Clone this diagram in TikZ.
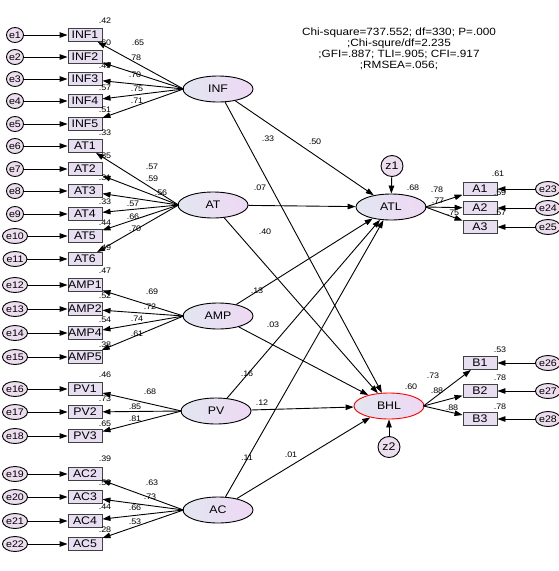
\documentclass[tikz,border=0pt]{standalone}
\usepackage{fontspec}
\setmainfont[FakeStretch=1.12]{Liberation Sans}
\usetikzlibrary{shapes.geometric,arrows.meta}
\definecolor{boxfill}{RGB}{232,222,242}
\definecolor{errfill}{RGB}{236,222,238}
\definecolor{latL}{RGB}{226,230,240}
\definecolor{latR}{RGB}{238,216,244}
\begin{document}
\begin{tikzpicture}[x=1pt,y=-1pt,
  obs/.style={rectangle,draw=black!75,line width=0.9pt,fill=boxfill,minimum width=34,minimum height=13,inner sep=0pt,font=\fontsize{11}{11}\selectfont},
  lat/.style={ellipse,draw=black,line width=0.9pt,left color=latL,right color=latR,minimum width=70,minimum height=26,inner sep=0pt,font=\fontsize{11}{11}\selectfont},
  err/.style={ellipse,draw=black,line width=0.9pt,fill=errfill,minimum width=17,minimum height=15,inner sep=0pt,font=\fontsize{9.5}{9.5}\selectfont},
  num/.style={inner sep=0pt,font=\fontsize{8}{8}\selectfont},
  arr/.style={-{Triangle[length=8pt,width=5.5pt]},line width=0.9pt}]
\useasboundingbox (0,0) rectangle (559,571);
\fill[white] (0,0) rectangle (559,571);
% fit text
\node[inner sep=0pt,align=center,font=\fontsize{10.5}{10.8}\selectfont] (fit) at (399,49)
  {Chi-square=737.552; df=330; P=.000\\;Chi-squre/df=2.235\\;GFI=.887; TLI=.905; CFI=.917\\;RMSEA=.056;};
% latent variables
\node[lat] (INF) at (218,89) {INF};
\node[lat] (AT) at (213,205) {AT};
\node[lat] (AMP) at (218,316) {AMP};
\node[lat] (PV) at (216,411) {PV};
\node[lat] (AC) at (218,510) {AC};
\node[lat] (ATL) at (391,207) {ATL};
\node[lat,draw=red] (BHL) at (389,406) {BHL};
\node[err,minimum width=22,minimum height=21,font=\fontsize{11}{11}\selectfont] (z1) at (392,166) {z1};
\node[err,minimum width=22,minimum height=21,font=\fontsize{11}{11}\selectfont] (z2) at (389,447) {z2};
% indicators left
\foreach \n/\y/\e in {INF1/35/e1,INF2/57/e2,INF3/79/e3,INF4/101/e4,INF5/124/e5,
  AT1/146/e6,AT2/169/e7,AT3/191/e8,AT4/214/e9,AT5/236/e10,AT6/259/e11,
  AMP1/285/e12,AMP2/309/e13,AMP4/333/e14,AMP5/357/e15,
  PV1/389/e16,PV2/412/e17,PV3/436/e18,
  AC2/474/e19,AC3/497/e20,AC4/521/e21,AC5/544/e22}{
  \node[obs] (\n) at (85,\y) {\n};
  \node[err] (\e) at (15,\y) {\e};
  \draw[arr] (\e) -- (\n);
}
% indicators right
\foreach \n/\y/\e in {A1/189/e23,A2/208/e24,A3/227/e25,B1/363/e26,B2/391/e27,B3/419/e28}{
  \node[obs] (\n) at (480,\y) {\n};
  \node[err] (\e) at (548,\y) {\e};
  \draw[arr] (\e) -- (\n);
}
% loadings
\foreach \n in {INF1,INF2,INF3,INF4,INF5}{\draw[arr] ([xshift=1pt]INF.west) -- (\n);}
\foreach \n in {AT1,AT2,AT3,AT4,AT5,AT6}{\draw[arr] ([xshift=1pt]AT.west) -- (\n);}
\foreach \n in {AMP1,AMP2,AMP4,AMP5}{\draw[arr] ([xshift=1pt]AMP.west) -- (\n);}
\foreach \n in {PV1,PV2,PV3}{\draw[arr] ([xshift=1pt]PV.west) -- (\n);}
\foreach \n in {AC2,AC3,AC4,AC5}{\draw[arr] ([xshift=1pt]AC.west) -- (\n);}
\foreach \n in {A1,A2,A3}{\draw[arr] ([xshift=-1pt]ATL.east) -- (\n);}
\foreach \n in {B1,B2,B3}{\draw[arr] ([xshift=-1pt]BHL.east) -- (\n);}
% structural paths
\foreach \s in {INF,AT,AMP,PV,AC}{
  \draw[arr] (\s) -- (ATL);
  \draw[arr] (\s) -- (BHL);
}
\draw[arr] (z1) -- (ATL);
\draw[arr] (z2) -- (BHL);
% squared multiple correlations (left)
\foreach \v/\x/\y/\k in {.42/105/21/a,.60/105/43/b,.49/105/66/c,.57/105/88/d,.51/105/110/e,
  .33/105/133/f,.35/105/156/g,.31/105/178/h,.33/105/202/i,.44/105/223/j,.49/105/248/k,
  .47/105/271/l,.52/105/296/m,.54/105/320/n,.38/105/345/o,
  .46/105/375/p,.73/105/399/q,.65/105/424/r,
  .39/105/459/s,.53/105/483/t,.44/105/507/u,.28/105/530/v}{
  \node[num] (r\k) at (\x,\y) {\v};
}
% loading values
\foreach \v/\x/\y/\k in {.65/138/43/a,.78/135/58/b,.70/135/75/c,.75/137/89/d,.71/137/101/e,
  .57/152/167/f,.59/152/179/g,.56/161/193/h,.57/133/204/i,.66/133/217/j,.70/135/229/k,
  .69/152/292/l,.72/150/307/m,.74/137/319/n,.61/137/334/o,
  .68/150/392/p,.85/135/407/q,.81/135/419/r,
  .63/152/483/s,.73/150/497/t,.66/135/508/u,.53/135/522/v,
  .50/315/142/w,.33/268/139/x,.07/260/188/y,.40/265/232/z,
  .13/257/291/A,.03/273/325/B,.16/247/374/C,.12/262/403/D,.11/247/458/E,.01/291/455/F,
  .68/413/188/G,.60/411/387/H,
  .78/437/190/I,.77/438/201/J,.75/453/213/K,.61/498/174/L,.59/500/193/M,.57/500/213/N,
  .73/433/376/O,.88/437/391/P,.88/452/408/Q,.53/500/350/R,.78/500/378/S,.78/500/407/T}{
  \node[num] (l\k) at (\x,\y) {\v};
}
\end{tikzpicture}
\end{document}
